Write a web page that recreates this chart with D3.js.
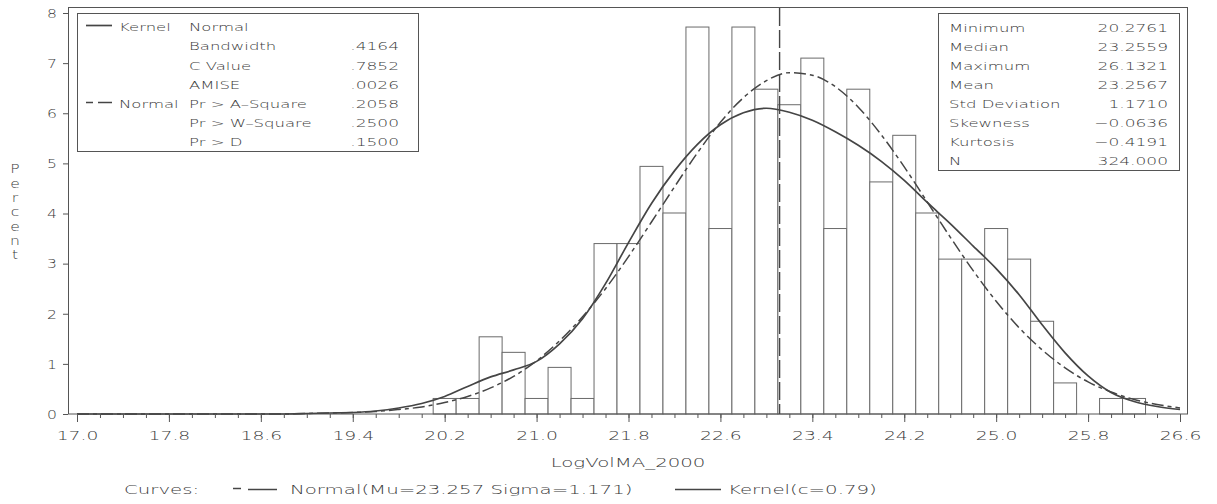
<!DOCTYPE html>
<html lang="en">
<head>
<meta charset="UTF-8">
<title>LogVolMA_2000 histogram</title>
<style>
  body { margin: 0; background: #fff; }
  svg { display: block; }
  text { font-family: "DejaVu Sans", sans-serif; font-weight: 200; fill: #3a3a3a; }
</style>
</head>
<body>
<svg id="chart" width="1217" height="504"></svg>
<script src="https://d3js.org/d3.v7.min.js"></script>
<script>
// histogram: bin midpoints and percent of observations
const binMids = [20.2, 20.4, 20.6, 20.8, 21.0, 21.2, 21.4, 21.6, 21.8, 22.0, 22.2, 22.4, 22.6, 22.8, 23.0,
  23.2, 23.4, 23.6, 23.8, 24.0, 24.2, 24.4, 24.6, 24.8, 25.0, 25.2, 25.4, 25.6, 25.8, 26.0, 26.2];
const binPct = [0.31, 0.31, 1.54, 1.23, 0.31, 0.93, 0.31, 3.40, 3.40, 4.94, 4.01, 7.72, 3.70, 7.72, 6.48,
  6.17, 7.10, 3.70, 6.48, 4.63, 5.56, 4.01, 3.09, 3.09, 3.70, 3.09, 1.85, 0.62, 0, 0.31, 0.31];

// fitted curves
const curveX = [17.0, 17.2, 17.4, 17.6, 17.8, 18.0, 18.2, 18.4, 18.6, 18.8, 19.0, 19.2, 19.4, 19.6, 19.8,
  20.0, 20.2, 20.4, 20.6, 20.8, 21.0, 21.2, 21.4, 21.6, 21.8, 22.0, 22.2, 22.4, 22.6, 22.8, 23.0, 23.2,
  23.4, 23.6, 23.8, 24.0, 24.2, 24.4, 24.6, 24.8, 25.0, 25.2, 25.4, 25.6, 25.8, 26.0, 26.2, 26.4, 26.6];
const normalPct = [0, 0, 0, 0, 0, 0, 0, 0, 0, 0, 0.01, 0.02, 0.03, 0.05, 0.09,
  0.14, 0.23, 0.35, 0.52, 0.75, 1.06, 1.46, 1.94, 2.50, 3.14, 3.83, 4.53, 5.21, 5.82, 6.31, 6.65, 6.81,
  6.76, 6.53, 6.12, 5.57, 4.93, 4.23, 3.53, 2.86, 2.25, 1.72, 1.28, 0.92, 0.64, 0.44, 0.29, 0.19, 0.12];
const kernelPct = [0, 0, 0, 0, 0, 0, 0, 0, 0, 0, 0.01, 0.02, 0.03, 0.06, 0.12,
  0.21, 0.35, 0.55, 0.74, 0.88, 1.05, 1.40, 1.90, 2.60, 3.42, 4.20, 4.85, 5.38, 5.77, 6.01, 6.10, 6.02,
  5.86, 5.63, 5.36, 5.04, 4.66, 4.22, 3.80, 3.35, 2.90, 2.38, 1.78, 1.22, 0.76, 0.43, 0.25, 0.15, 0.09];

const xTicks = [17.0, 17.8, 18.6, 19.4, 20.2, 21.0, 21.8, 22.6, 23.4, 24.2, 25.0, 25.8, 26.6];
const yTicks = [0, 1, 2, 3, 4, 5, 6, 7, 8];
const refValue = 23.115;

// inset tables
const fitLabels1 = ['Kernel', '', '', '', 'Normal', '', ''];
const fitLabels2 = ['Normal', 'Bandwidth', 'C Value', 'AMISE', 'Pr > A\u2013Square', 'Pr > W\u2013Square', 'Pr > D'];
const fitValues = ['', '.4164', '.7852', '.0026', '.2058', '.2500', '.1500'];
const statLabels = ['Minimum', 'Median', 'Maximum', 'Mean', 'Std Deviation', 'Skewness', 'Kurtosis', 'N'];
const statValues = ['20.2761', '23.2559', '26.1321', '23.2567', '1.1710', '\u22120.0636', '\u22120.4191', '324.000'];

const binWidth = 0.2;
const ink = '#454545';

const svg = d3.select('#chart');
const x = d3.scaleLinear().domain([17.0, 26.6]).range([77, 1180]);
const y = d3.scaleLinear().domain([0, 8]).range([414, 13]);

// wide-ish text like the SAS simplex font
function put(g, px, py, str, size, sx, anchor) {
  return g.append('text')
    .attr('transform', `translate(${px},${py}) scale(${sx},1)`)
    .attr('text-anchor', anchor || 'start')
    .attr('dominant-baseline', 'central')
    .style('font-size', size + 'px')
    .text(str);
}

// bars
svg.append('g').selectAll('rect')
  .data(binMids)
  .join('rect')
  .attr('x', d => x(d - binWidth / 2))
  .attr('width', d => x(d + binWidth / 2) - x(d - binWidth / 2))
  .attr('y', (d, i) => y(binPct[i]))
  .attr('height', (d, i) => y(0) - y(binPct[i]))
  .attr('fill', '#fff')
  .attr('stroke', '#6a6a6a')
  .attr('stroke-width', 1);

// frame
svg.append('rect')
  .attr('x', 68.5).attr('y', 7.5)
  .attr('width', 1119).attr('height', 406.5)
  .attr('fill', 'none').attr('stroke', '#555');

// reference line
svg.append('line')
  .attr('x1', x(refValue)).attr('x2', x(refValue))
  .attr('y1', 8).attr('y2', y(0))
  .attr('stroke', ink).attr('stroke-width', 1.4)
  .attr('stroke-dasharray', '18,4');

// curves
const line = d3.line()
  .x((d, i) => x(curveX[i]))
  .y(d => y(d))
  .curve(d3.curveMonotoneX);

svg.append('path').datum(normalPct)
  .attr('d', line).attr('fill', 'none')
  .attr('stroke', ink).attr('stroke-width', 1.5)
  .attr('stroke-dasharray', '12,4,4,4');

svg.append('path').datum(kernelPct)
  .attr('d', line).attr('fill', 'none')
  .attr('stroke', ink).attr('stroke-width', 1.7);

// axes
const xMinor = svg.append('g')
  .attr('transform', `translate(0,${y(0)})`)
  .call(d3.axisBottom(x).ticks(48).tickSize(4).tickSizeOuter(0).tickFormat(''));
xMinor.select('.domain').remove();

const xAxis = svg.append('g')
  .attr('transform', `translate(0,${y(0)})`)
  .call(d3.axisBottom(x).tickValues(xTicks).tickSize(8).tickSizeOuter(0).tickFormat(d3.format('.1f')));
xAxis.select('.domain').remove();
xAxis.selectAll('text')
  .attr('y', 0).attr('dy', null)
  .attr('transform', 'translate(0,22) scale(1.5,1)')
  .attr('dominant-baseline', 'central')
  .style('font-size', '12.5px');

const yAxis = svg.append('g')
  .attr('transform', 'translate(68,0)')
  .call(d3.axisLeft(y).tickValues(yTicks).tickSize(5).tickSizeOuter(0).tickFormat(d3.format('d')));
yAxis.select('.domain').remove();
yAxis.selectAll('text')
  .attr('x', 0).attr('dy', null)
  .attr('transform', 'translate(-11,0) scale(1.3,1)')
  .attr('dominant-baseline', 'central')
  .style('font-size', '12px');

svg.selectAll('.tick line').attr('stroke', '#555');
svg.selectAll('.tick text').attr('fill', '#3a3a3a')
  .style('font-family', '"DejaVu Sans", sans-serif').style('font-weight', 200);

// y title: stacked letters
const yTitle = svg.append('g');
'Percent'.split('').forEach((ch, i) => put(yTitle, 15, 169 + i * 14.3, ch, 12, 1.3, 'middle'));

// x title and curve legend
const bottom = svg.append('g');
put(bottom, 628, 463, 'LogVolMA_2000', 12.5, 1.58, 'middle');
put(bottom, 124, 490, 'Curves:', 12.5, 1.58);
bottom.append('line').attr('x1', 233).attr('x2', 241).attr('y1', 488.5).attr('y2', 488.5)
  .attr('stroke', ink).attr('stroke-width', 1.5);
bottom.append('line').attr('x1', 248).attr('x2', 277).attr('y1', 489.5).attr('y2', 489.5)
  .attr('stroke', ink).attr('stroke-width', 1.5);
put(bottom, 290, 490, 'Normal(Mu=23.257 Sigma=1.171)', 12.5, 1.58);
bottom.append('line').attr('x1', 675).attr('x2', 721).attr('y1', 489.5).attr('y2', 489.5)
  .attr('stroke', ink).attr('stroke-width', 1.7);
put(bottom, 728, 490, 'Kernel(c=0.79)', 12.5, 1.58);

// fit table (top left)
const fit = svg.append('g');
fit.append('rect').attr('x', 77.5).attr('y', 13.5).attr('width', 341).attr('height', 138)
  .attr('fill', '#fff').attr('stroke', '#555');
fitLabels2.forEach((lab, i) => {
  const ry = 27.3 + i * 19.2;
  put(fit, 119, ry, fitLabels1[i], 11, 1.5);
  put(fit, 189, ry, lab, 11, 1.5);
  put(fit, 399, ry, fitValues[i], 11, 1.55, 'end');
});
fit.append('line').attr('x1', 86).attr('x2', 112).attr('y1', 25.5).attr('y2', 25.5)
  .attr('stroke', ink).attr('stroke-width', 1.7);
fit.append('line').attr('x1', 86).attr('x2', 93).attr('y1', 102.5).attr('y2', 102.5)
  .attr('stroke', ink).attr('stroke-width', 1.5);
fit.append('line').attr('x1', 98).attr('x2', 112).attr('y1', 102.5).attr('y2', 102.5)
  .attr('stroke', ink).attr('stroke-width', 1.5);

// summary statistics (top right)
const stats = svg.append('g');
stats.append('rect').attr('x', 938.5).attr('y', 13.5).attr('width', 241).attr('height', 157)
  .attr('fill', '#fff').attr('stroke', '#555');
statLabels.forEach((lab, i) => {
  const ry = 28.3 + i * 19.0;
  put(stats, 949, ry, lab, 11, 1.5);
  put(stats, 1168, ry, statValues[i], 11, 1.55, 'end');
});
</script>
</body>
</html>
